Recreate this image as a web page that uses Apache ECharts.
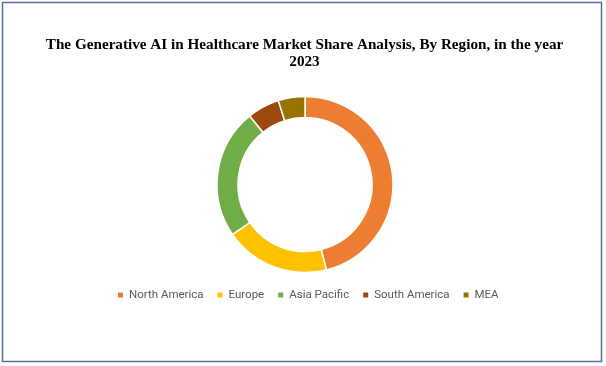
<!DOCTYPE html>
<html>
<head>
<meta charset="utf-8">
<script src="https://cdn.jsdelivr.net/npm/echarts@6/dist/echarts.min.js"></script>
<style>
html,body{margin:0;padding:0;background:#fff;}
#chart{width:606px;height:366px;}
</style>
</head>
<body>
<div id="chart"></div>
<script>
const categories = ['North America', 'Europe', 'Asia Pacific', 'South America', 'MEA'];
const shares = [46.1, 19.3, 23.8, 5.9, 4.9];
const colors = ['#ED7D31', '#FFC000', '#70AD47', '#9E480E', '#997300'];
const titleLines = ['The Generative AI in Healthcare Market Share Analysis, By Region, in the year', '2023'];

const titleFont = 'bold 15.2px "Liberation Serif"';
const chart = echarts.init(document.getElementById('chart'));
chart.setOption({
  animation: false,
  color: colors,
  legend: {
    top: 284,
    left: 111,
    icon: 'rect',
    itemWidth: 7,
    itemHeight: 7,
    itemGap: 12,
    textStyle: { fontFamily: 'Roboto', fontSize: 11.5, color: '#595959' },
    data: categories
  },
  graphic: [{
    type: 'rect',
    shape: { x: 2.5, y: 2.5, width: 599, height: 359 },
    style: { fill: 'none', stroke: '#5b6e9e', lineWidth: 1.5 },
    silent: true
  }, {
    type: 'text',
    x: 304.5, y: 45.5,
    style: { text: titleLines[0], font: titleFont, fill: '#000', align: 'center', verticalAlign: 'middle' }
  }, {
    type: 'text',
    x: 304.5, y: 62.5,
    style: { text: titleLines[1], font: titleFont, fill: '#000', align: 'center', verticalAlign: 'middle' }
  }],
  series: [{
    type: 'pie',
    center: [305, 184.5],
    radius: [67, 88],
    startAngle: 90,
    clockwise: true,
    label: { show: false },
    labelLine: { show: false },
    itemStyle: { borderColor: '#fff', borderWidth: 1.5 },
    data: categories.map((c, i) => ({ name: c, value: shares[i] }))
  }]
});
</script>
</body>
</html>
